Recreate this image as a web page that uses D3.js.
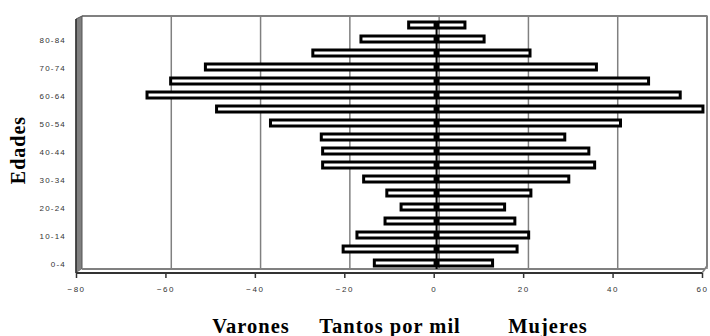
<!DOCTYPE html>
<html><head><meta charset="utf-8">
<script src="https://cdn.jsdelivr.net/npm/d3@7"></script>
<style>body{margin:0;background:#fff}svg{display:block}</style>
</head><body>
<script>
const ageGroups = ["0-4","5-9","10-14","15-19","20-24","25-29","30-34","35-39","40-44","45-49","50-54","55-59","60-64","65-69","70-74","75-79","80-84","85+"];
const ageLabels = ["0-4","10-14","20-24","30-34","40-44","50-54","60-64","70-74","80-84"];
const varones = [-14.3,-21.3,-18.2,-11.9,-8.3,-11.5,-16.7,-25.9,-25.9,-26.2,-37.6,-49.7,-65.3,-60.0,-52.2,-28.1,-17.3,-6.6];
const mujeres = [12.9,18.4,21.0,17.9,15.6,21.5,30.0,35.8,34.5,29.1,41.6,60.1,55.0,47.9,36.2,21.3,11.0,6.7];
const xTicks = [-80,-60,-40,-20,0,20,40,60];

const W=710,H=336;
const svg=d3.select("body").append("svg").attr("width",W).attr("height",H);

const xBar=d3.scaleLinear().domain([-80,60]).range([80,704]);
const xWall=d3.scaleLinear().domain([-80,60]).range([82,707]);
const xFront=d3.scaleLinear().domain([-80,60]).range([76,702]);
const y=d3.scaleBand().domain(ageGroups.slice().reverse()).range([19,271]).padding(0);

const wallTop=16, wallBottom=269, frontY=273;

// back wall gridlines
svg.append("g").selectAll("line").data(xTicks.slice(1)).join("line")
  .attr("x1",d=>xWall(d)).attr("x2",d=>xWall(d))
  .attr("y1",wallTop).attr("y2",wallBottom)
  .attr("stroke","#808080").attr("stroke-width",1.5);
// top border
svg.append("line").attr("x1",xWall(-80)).attr("x2",xWall(60)+0.5).attr("y1",wallTop).attr("y2",wallTop)
  .attr("stroke","#808080").attr("stroke-width",2);
// left wall
svg.append("path").attr("d",`M${xFront(-80)},19 L${xWall(-80)},${wallTop} L${xWall(-80)},${wallBottom} L${xFront(-80)},${frontY} Z`)
  .attr("fill","#808080").attr("stroke","#555").attr("stroke-width",1);
svg.append("line").attr("x1",xFront(-80)).attr("x2",xFront(-80)).attr("y1",19).attr("y2",frontY)
  .attr("stroke","#333").attr("stroke-width",1.5);
// floor
svg.append("path").attr("d",`M${xFront(-80)},${frontY} L${xWall(-80)},${wallBottom} L${xWall(60)-2},${wallBottom} L${xFront(60)},${frontY} Z`)
  .attr("fill","#fff");
svg.append("line").attr("x1",xWall(-80)).attr("x2",xWall(60)-2).attr("y1",wallBottom).attr("y2",wallBottom)
  .attr("stroke","#808080").attr("stroke-width",2);
svg.append("path").attr("d",`M${xWall(60)-2},${wallBottom} L${xWall(60)},${wallBottom-3} L${xWall(60)},${wallTop}`)
  .attr("fill","none").attr("stroke","#808080").attr("stroke-width",2);
svg.append("path").attr("d",`M${xFront(60)},${frontY} L${xWall(60)-2},${wallBottom}`)
  .attr("fill","none").attr("stroke","#808080").attr("stroke-width",1.5);

// bars
const bars=svg.append("g");
const bh=6;
ageGroups.forEach((g,i)=>{
  const cy=y(g)+y.bandwidth()/2-1;
  [varones[i],mujeres[i]].forEach(v=>{
    const x0=Math.min(xBar(0),xBar(v))+1.5, x1=Math.max(xBar(0),xBar(v))-1.5;
    bars.append("rect").attr("x",x0).attr("y",cy-bh/2).attr("width",x1-x0).attr("height",bh)
      .attr("fill","#fff").attr("stroke","#000").attr("stroke-width",3);
  });
});
// zero line over bars
bars.append("line").attr("x1",xBar(0)).attr("x2",xBar(0)).attr("y1",y("85+")+2).attr("y2",wallBottom)
  .attr("stroke","#000").attr("stroke-width",2);

// front axis
svg.append("line").attr("x1",xFront(-80)).attr("x2",xFront(60)).attr("y1",frontY).attr("y2",frontY)
  .attr("stroke","#333").attr("stroke-width",2);
const ax=d3.axisBottom(xFront).tickValues(xTicks).tickSize(5).tickPadding(8).tickFormat(d3.format("d"));
const axg=svg.append("g").attr("transform",`translate(0,${frontY})`).call(ax);
axg.select(".domain").remove();
axg.selectAll(".tick line").attr("stroke","#333").attr("stroke-width",1.5);
axg.selectAll(".tick text").attr("font-family","Arial, 'Liberation Sans', sans-serif").attr("font-size",8)
  .attr("letter-spacing","1.5px").attr("fill","#333");

// category labels
svg.append("g").selectAll("text").data(ageLabels).join("text")
  .attr("x",66).attr("y",d=>y(d)+y.bandwidth()/2).attr("dy","0.35em")
  .attr("text-anchor","end").attr("font-family","Arial, 'Liberation Sans', sans-serif").attr("font-size",8)
  .attr("letter-spacing","1.2px").attr("fill","#333").text(d=>d);

// titles
const tf="'Liberation Serif','Times New Roman',serif";
svg.append("text").attr("transform","translate(25,150) rotate(-90)").attr("text-anchor","middle")
  .attr("font-family",tf).attr("font-weight","bold").attr("font-size",20).attr("letter-spacing","1px")
  .attr("fill","#000").text("Edades");
[["Varones",251],["Tantos por mil",390],["Mujeres",548]].forEach(([t,x])=>{
  svg.append("text").attr("x",x).attr("y",333).attr("text-anchor","middle")
    .attr("font-family",tf).attr("font-weight","bold").attr("font-size",20.5).attr("letter-spacing","1px")
    .attr("fill","#000").text(t);
});
</script>
</body></html>
